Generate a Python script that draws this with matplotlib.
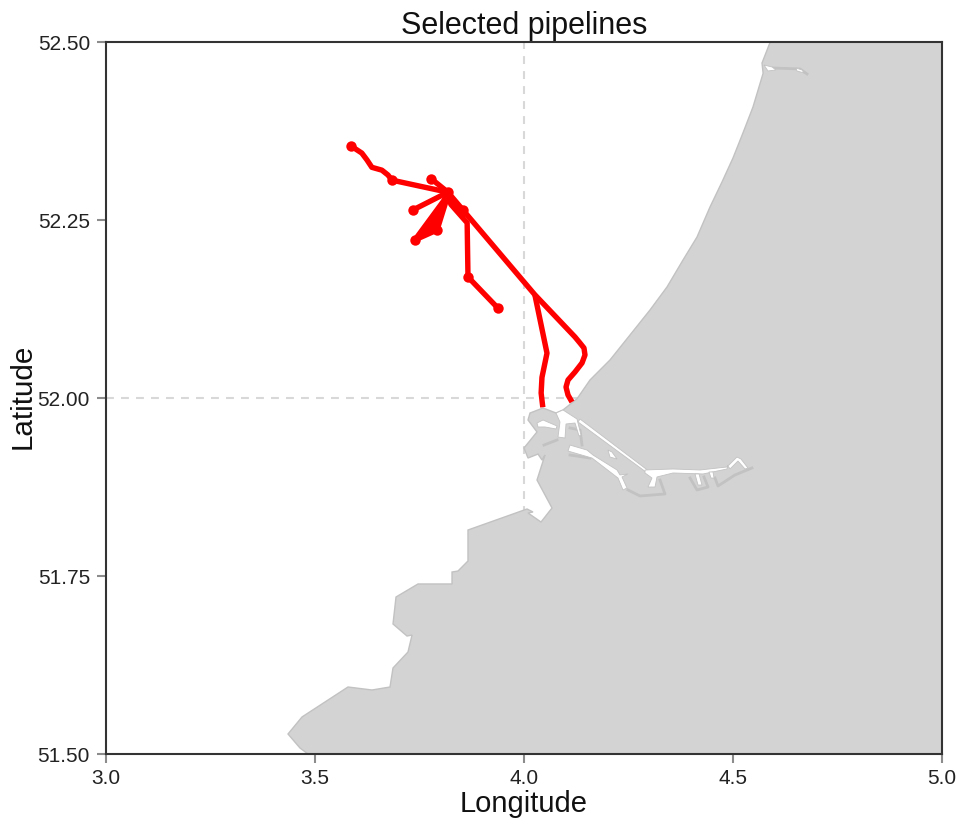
import matplotlib
matplotlib.use("Agg")
import matplotlib.pyplot as plt

plt.rcParams['font.family'] = ['Liberation Sans', 'DejaVu Sans']

# coastline, lon/lat
land_lon = [4.589, 4.5694, 4.572, 4.5478, 4.5238, 4.5000, 4.4737, 4.4450, 4.4139, 4.3804, 4.3421, 4.3014, 4.2536,
            4.2057, 4.1579, 4.127, 4.0933,
            4.0766, 4.0455, 4.0144, 4.0096, 4.0311, 4.0000, 4.0096, 4.0335, 4.0431, 4.0502, 4.0311,
            4.0670, 4.0407, 4.0096, 4.0215, 4.0072, 3.8660, 3.8660, 3.8421, 3.8278, 3.8278, 3.7464,
            3.6938, 3.6866, 3.7201, 3.7321, 3.7225, 3.6866, 3.6794, 3.6364, 3.5789, 3.4689, 3.4354,
            3.4641, 3.4833, 5.0, 5.0]
land_lat = [52.500, 52.4705, 52.456, 52.4087, 52.3722, 52.3371, 52.3034, 52.2683, 52.2261, 52.1938, 52.1559, 52.1236, 52.0885,
            52.0534, 52.0253, 51.999, 51.9832,
            51.9789, 51.9860, 51.9789, 51.9691, 51.9523, 51.9298, 51.9157, 51.9213, 51.9129, 51.9199, 51.8848,
            51.8455, 51.8258, 51.8385, 51.8399, 51.8441, 51.8146, 51.7711, 51.7570, 51.7556, 51.7388, 51.7388,
            51.7205, 51.6826, 51.6657, 51.6671, 51.6433, 51.6208, 51.5941, 51.5899, 51.5941, 51.5520, 51.5281,
            51.5084, 51.5000, 51.5, 52.5]

# harbour water
entrance_lon = [4.0766, 4.0933, 4.1268, 4.1364, 4.1316, 4.1220, 4.1005, 4.0981, 4.0813, 4.0861]
entrance_lat = [51.9789, 51.9832, 51.9705, 51.9480, 51.9466, 51.9649, 51.9635, 51.9438, 51.9452, 51.9663]
inner_lon = [4.0311, 4.0455, 4.0790, 4.0766, 4.0502, 4.0335]
inner_lat = [51.9649, 51.9691, 51.9607, 51.9565, 51.9593, 51.9593]
waterway_lon = [4.1340, 4.3014, 4.3014, 4.1292]
waterway_lat = [51.9705, 51.8961, 51.8919, 51.9663]
basin_lon = [4.1100, 4.1507, 4.1651, 4.2225, 4.2297, 4.2488, 4.2344, 4.2464, 4.2368, 4.2249, 4.1627, 4.1053]
basin_lat = [51.9339, 51.9269, 51.9199, 51.8989, 51.8919, 51.8933, 51.8891, 51.8736, 51.8708, 51.8876, 51.9157, 51.9255]
blob_lon = [4.2009, 4.2105, 4.2225, 4.2057]
blob_lat = [51.9269, 51.9241, 51.9143, 51.9171]
east_lon = [4.2895, 4.3565, 4.4211, 4.4856, 4.4880, 4.4856, 4.4282, 4.3565, 4.3182, 4.3134, 4.2967, 4.3062, 4.2895]
east_lat = [51.8989, 51.9003, 51.8989, 51.9031, 51.9059, 51.9003, 51.8933, 51.8947, 51.8891, 51.8750, 51.8750, 51.8876, 51.8947]
tail_lon = [4.4880, 4.5095, 4.5191, 4.5358, 4.5287, 4.5119, 4.4928]
tail_lat = [51.9045, 51.9171, 51.9143, 51.9017, 51.9003, 51.9115, 51.9003]
arm1_lon = [4.4091, 4.4187, 4.4258, 4.4163]
arm1_lat = [51.8933, 51.8933, 51.8778, 51.8778]
arm2_lon = [4.4426, 4.4522, 4.4546, 4.4474]
arm2_lat = [51.8961, 51.8961, 51.8876, 51.8876]
ijm_lon = [4.5742, 4.5933, 4.6029, 4.5837]
ijm_lat = [52.4677, 52.4649, 52.4607, 52.4593]
ijm_tip_lon = [4.6507, 4.6651, 4.6699, 4.6531]
ijm_tip_lat = [52.4635, 52.4607, 52.4565, 52.4593]

# darker shoreline bits
edge1_lon = [4.2488, 4.2775, 4.3373, 4.3254]
edge1_lat = [51.8708, 51.8624, 51.8652, 51.8848]
edge2_lon = [4.3972, 4.4139, 4.4402, 4.4306]
edge2_lat = [51.8876, 51.8708, 51.8750, 51.8891]
edge3_lon = [4.4569, 4.4641, 4.5047, 4.5454]
edge3_lat = [51.8876, 51.8764, 51.8919, 51.9017]
edge4_lon = [4.0478, 4.0790]
edge4_lat = [51.9339, 51.9410]
edge5_lon = [4.1100, 4.1340, 4.1388]
edge5_lat = [51.9579, 51.9551, 51.9339]
edge6_lon = [4.1100, 4.1579]
edge6_lat = [51.9199, 51.9157]
edge7_lon = [4.5957, 4.6603, 4.6770]
edge7_lat = [52.4635, 52.4621, 52.4551]

# pipelines
pipe1_lon = [3.818, 3.854, 4.026, 4.1220, 4.1340, 4.1435, 4.1459, 4.1388, 4.1220, 4.1053, 4.1005, 4.1053, 4.1148]
pipe1_lat = [52.289, 52.264, 52.145, 52.0857, 52.0772, 52.0702, 52.0604, 52.0492, 52.0365, 52.0253, 52.0154, 52.0042, 51.9944]
pipe2_lon = [4.026, 4.055, 4.043, 4.041, 4.045]
pipe2_lat = [52.145, 52.063, 52.029, 52.007, 51.987]
pipe3_lon = [3.586, 3.612, 3.6244, 3.636, 3.660, 3.6746, 3.684, 3.818]
pipe3_lat = [52.354, 52.344, 52.3343, 52.324, 52.320, 52.3132, 52.306, 52.289]
pipe4_lon = [3.778, 3.818]
pipe4_lat = [52.308, 52.289]
pipe5_lon = [3.734, 3.818]
pipe5_lat = [52.264, 52.289]
pipe6_lon = [3.739, 3.818, 3.792, 3.739]
pipe6_lat = [52.222, 52.285, 52.236, 52.222]
pipe7_lon = [3.775, 3.818, 3.758, 3.818, 3.790]
pipe7_lat = [52.233, 52.285, 52.229, 52.285, 52.245]
pipe8_lon = [3.818, 3.825, 3.864, 3.866, 3.938]
pipe8_lat = [52.289, 52.272, 52.246, 52.170, 52.126]
pipe9_lon = [3.820, 3.860]
pipe9_lat = [52.280, 52.255]
node_lon = [3.586, 3.684, 3.778, 3.818, 3.734, 3.739, 3.792, 3.854, 3.866, 3.938]
node_lat = [52.354, 52.306, 52.308, 52.289, 52.264, 52.222, 52.236, 52.264, 52.170, 52.126]

x_ticks = [3.0, 3.5, 4.0, 4.5, 5.0]
x_labels = ['3.0', '3.5', '4.0', '4.5', '5.0']
y_ticks = [51.5, 51.75, 52.0, 52.25, 52.5]
y_labels = ['51.50', '51.75', '52.00', '52.25', '52.50']

land_col = '#d3d3d3'
edge_col = '#c2c2c2'

fig = plt.figure(figsize=(9.59, 8.18), dpi=100)
ax = fig.add_axes([106/959, 1-754/818, 836/959, 712/818])

# reference lines sit under the land
ax.axvline(4.0, color='#d8d8d8', lw=1.5, dashes=(3.8, 3.4), zorder=1)
ax.axhline(52.0, color='#d8d8d8', lw=1.5, dashes=(3.8, 3.4), zorder=1)

ax.fill(land_lon, land_lat, facecolor=land_col, edgecolor=edge_col, lw=1, zorder=2)

waters = [(entrance_lon, entrance_lat), (inner_lon, inner_lat), (waterway_lon, waterway_lat),
          (basin_lon, basin_lat), (blob_lon, blob_lat), (east_lon, east_lat), (tail_lon, tail_lat),
          (arm1_lon, arm1_lat), (arm2_lon, arm2_lat), (ijm_lon, ijm_lat), (ijm_tip_lon, ijm_tip_lat)]
edges = [(edge1_lon, edge1_lat), (edge2_lon, edge2_lat), (edge3_lon, edge3_lat), (edge4_lon, edge4_lat),
         (edge5_lon, edge5_lat), (edge6_lon, edge6_lat), (edge7_lon, edge7_lat)]

for lon, lat in edges:
    ax.plot(lon, lat, color=edge_col, lw=2, zorder=3)
for lon, lat in waters:
    ax.fill(lon, lat, facecolor='white', edgecolor=edge_col, lw=0.6, zorder=4)

pipes = [(pipe1_lon, pipe1_lat), (pipe2_lon, pipe2_lat), (pipe3_lon, pipe3_lat), (pipe4_lon, pipe4_lat),
         (pipe5_lon, pipe5_lat), (pipe6_lon, pipe6_lat), (pipe7_lon, pipe7_lat), (pipe8_lon, pipe8_lat),
         (pipe9_lon, pipe9_lat)]
for lon, lat in pipes:
    ax.plot(lon, lat, color='#ff0000', lw=3.9, solid_joinstyle='round', solid_capstyle='butt', zorder=5)
ax.plot(node_lon, node_lat, 'o', color='#ff0000', ms=7.5, mew=0, zorder=6)

ax.set_xlim(3.0, 5.0)
ax.set_ylim(51.5, 52.5)
ax.set_xticks(x_ticks)
ax.set_xticklabels(x_labels)
ax.set_yticks(y_ticks)
ax.set_yticklabels(y_labels)
ax.tick_params(length=6.5, width=1.5, color='#8c8c8c', labelsize=15, labelcolor='#222222')
ax.tick_params(axis='x', pad=4)
ax.tick_params(axis='y', pad=5)
for s in ax.spines.values():
    s.set_color('#333333')
    s.set_linewidth(1.5)

fig.text(524/959, 1-26/818, 'Selected pipelines', fontsize=22, ha='center', va='center', color='#111111')
fig.text(524/959, 1-804/818, 'Longitude', fontsize=21, ha='center', va='center', color='#111111')
fig.text(23/959, 1-396/818, 'Latitude', fontsize=21.3, ha='center', va='center', rotation=90, color='#111111')

fig.savefig('out.png', dpi=100)
